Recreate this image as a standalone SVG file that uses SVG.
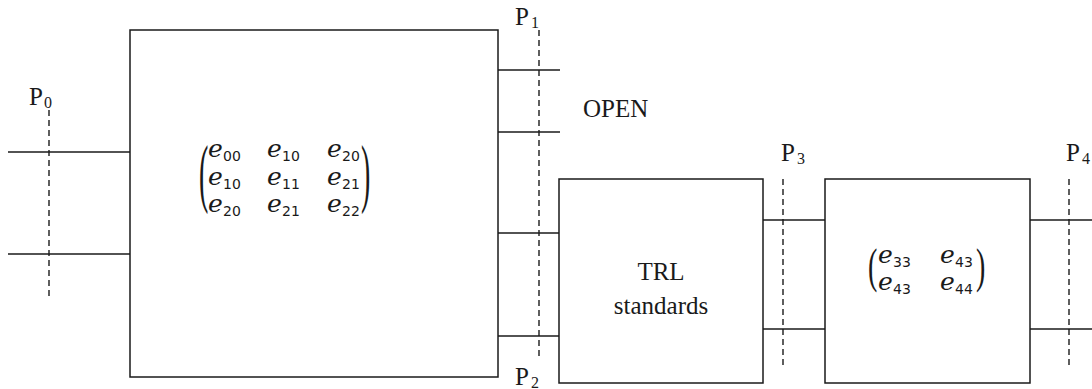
<svg xmlns="http://www.w3.org/2000/svg" width="1092" height="389" viewBox="0 0 1092 389">
<style>
.box{fill:none;stroke:#1a1a1a;stroke-width:1.5}
.ln{stroke:#1a1a1a;stroke-width:1.4;fill:none}
.dash{stroke:#1a1a1a;stroke-width:1.4;stroke-dasharray:6 4;fill:none}
.lbl{font-family:"Liberation Serif",serif;font-size:25px;fill:#1a1a1a}
.sub{font-family:"Liberation Serif",serif;font-size:16px;fill:#1a1a1a}
.e{font-family:"DejaVu Serif",serif;font-style:italic;font-size:25px;fill:#1a1a1a}
.d{font-family:"DejaVu Sans",sans-serif;font-size:14px;fill:#1a1a1a}
.par{font-family:"Liberation Serif",serif;font-size:28px;fill:#1a1a1a}
</style>
<g id="connectors">
<line class="ln" x1="8" y1="152" x2="130" y2="152"/>
<line class="ln" x1="8" y1="254" x2="130" y2="254"/>
<line class="ln" x1="498" y1="70" x2="560" y2="70"/>
<line class="ln" x1="498" y1="132" x2="560" y2="132"/>
<line class="ln" x1="498" y1="233" x2="559" y2="233"/>
<line class="ln" x1="498" y1="336" x2="559" y2="336"/>
<line class="ln" x1="763" y1="220" x2="825" y2="220"/>
<line class="ln" x1="763" y1="329" x2="825" y2="329"/>
<line class="ln" x1="1030" y1="220" x2="1092" y2="220"/>
<line class="ln" x1="1030" y1="329" x2="1092" y2="329"/>
</g>
<g id="planes">
<line class="dash" x1="49" y1="110" x2="49" y2="298"/>
<line class="dash" x1="539" y1="30" x2="539" y2="358"/>
<line class="dash" x1="783" y1="179" x2="783" y2="365"/>
<line class="dash" x1="1069" y1="179" x2="1069" y2="365"/>
<text class="lbl" x="29" y="105">P</text><text class="sub" x="44" y="108">0</text>
<text class="lbl" x="515" y="25">P</text><text class="sub" x="531" y="28">1</text>
<text class="lbl" x="515" y="385">P</text><text class="sub" x="531" y="388">2</text>
<text class="lbl" x="781" y="161">P</text><text class="sub" x="797" y="164">3</text>
<text class="lbl" x="1066" y="161">P</text><text class="sub" x="1082" y="164">4</text>
</g>
<g id="errorbox">
<rect class="box" x="130" y="30" width="368" height="347"/>
<text class="par" transform="translate(199,198) scale(1,2.75)">(</text>
<text class="par" transform="translate(361,198) scale(1,2.75)">)</text>
<text class="e" x="208" y="157">e</text><text class="d" x="223" y="161">00</text>
<text class="e" x="267" y="157">e</text><text class="d" x="282" y="161">10</text>
<text class="e" x="327" y="157">e</text><text class="d" x="342" y="161">20</text>
<text class="e" x="208" y="185">e</text><text class="d" x="223" y="189">10</text>
<text class="e" x="267" y="185">e</text><text class="d" x="282" y="189">11</text>
<text class="e" x="327" y="185">e</text><text class="d" x="342" y="189">21</text>
<text class="e" x="208" y="212">e</text><text class="d" x="223" y="216">20</text>
<text class="e" x="267" y="212">e</text><text class="d" x="282" y="216">21</text>
<text class="e" x="327" y="212">e</text><text class="d" x="342" y="216">22</text>
</g>
<g id="open">
<text class="lbl" x="583" y="117">OPEN</text>
</g>
<g id="trl">
<rect class="box" x="559" y="179" width="204" height="204"/>
<text class="lbl" x="661" y="280" text-anchor="middle">TRL</text>
<text class="lbl" x="661" y="314" text-anchor="middle">standards</text>
</g>
<g id="dutbox">
<rect class="box" x="825" y="179" width="205" height="204"/>
<text class="par" transform="translate(868,282) scale(1,1.77)">(</text>
<text class="par" transform="translate(976,282) scale(1,1.77)">)</text>
<text class="e" x="878" y="263">e</text><text class="d" x="893" y="267">33</text>
<text class="e" x="940" y="263">e</text><text class="d" x="955" y="267">43</text>
<text class="e" x="878" y="290">e</text><text class="d" x="893" y="294">43</text>
<text class="e" x="940" y="290">e</text><text class="d" x="955" y="294">44</text>
</g>
</svg>
